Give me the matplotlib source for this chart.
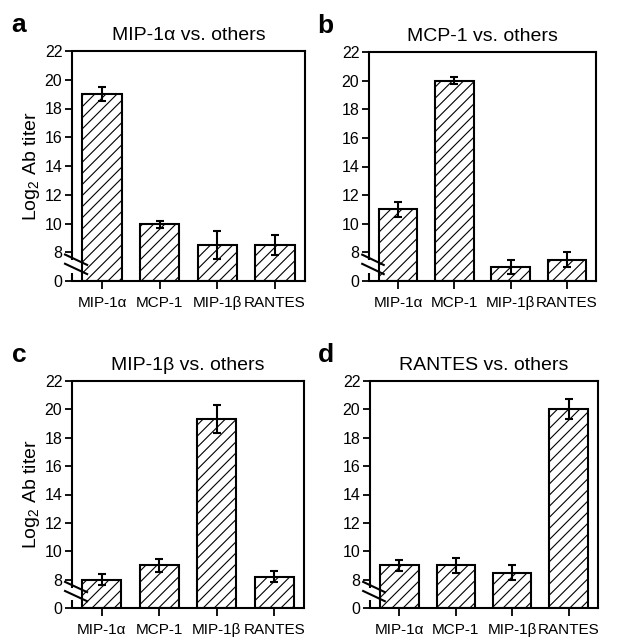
import matplotlib
matplotlib.use("Agg")
import matplotlib.pyplot as plt

plt.rcParams['font.family'] = ['Liberation Sans', 'DejaVu Sans']
plt.rcParams['mathtext.fontset'] = 'custom'
plt.rcParams['mathtext.rm'] = 'Liberation Sans'
plt.rcParams['hatch.linewidth'] = 0.8

# Data (the axis is broken, "0" sits where 6 would be)
chemokines = ["MIP-1\u03b1", "MCP-1", "MIP-1\u03b2", "RANTES"]
letters = ["a", "b", "c", "d"]
titles = ["MIP-1\u03b1 vs. others", "MCP-1 vs. others",
          "MIP-1\u03b2 vs. others", "RANTES vs. others"]
titer_a = [19.0, 9.95, 8.5, 8.5]
err_a = [0.5, 0.25, 1.0, 0.7]
titer_b = [11.0, 20.0, 7.0, 7.5]
err_b = [0.5, 0.25, 0.5, 0.5]
titer_c = [8.0, 9.0, 19.3, 8.2]
err_c = [0.4, 0.45, 1.0, 0.4]
titer_d = [9.0, 9.0, 8.5, 20.0]
err_d = [0.4, 0.5, 0.5, 0.7]
ytick_vals = [6, 8, 10, 12, 14, 16, 18, 20, 22]
ytick_labels = ["0", "8", "10", "12", "14", "16", "18", "20", "22"]
axis_floor = 6

W, H = 618, 641
fig = plt.figure(figsize=(W / 100, H / 100), dpi=100)

# axes boxes in pixels: left, top, right, bottom
boxes = [(72, 51, 305, 281), (369, 52, 596, 281),
         (72, 381, 304, 608), (370, 381, 598, 608)]
series = [(titer_a, err_a), (titer_b, err_b), (titer_c, err_c), (titer_d, err_d)]

for i, (box, (vals, errs)) in enumerate(zip(boxes, series)):
    l, t, r, b = box
    ax = fig.add_axes([l / W, 1 - b / H, (r - l) / W, (b - t) / H])
    x = list(range(len(chemokines)))
    heights = [v - axis_floor for v in vals]
    ax.bar(x, heights, bottom=axis_floor, width=0.68, color="white",
           edgecolor="black", linewidth=1.5, hatch="///", zorder=2)
    ax.errorbar(x, vals, yerr=errs, fmt="none", ecolor="black",
                elinewidth=1.5, capsize=3, capthick=1.5, zorder=3)
    ax.set_xlim(-0.52, 3.52)
    ax.set_ylim(axis_floor, 22)
    ax.set_yticks(ytick_vals)
    ax.set_yticklabels(ytick_labels, fontsize=11.5)
    ax.set_xticks(x)
    ax.set_xticklabels(chemokines, fontsize=11)
    ax.tick_params(axis="both", direction="out", width=1.3, pad=2)
    ax.tick_params(axis="y", length=5)
    ax.tick_params(axis="x", length=6, pad=5)
    for s in ["top", "right", "bottom"]:
        ax.spines[s].set_linewidth(1.5)
    ax.spines["left"].set_visible(False)
    # left spine drawn in two pieces with a break between 0 and 8
    ax.plot([0, 0], [1, 0.09], transform=ax.transAxes, color="black",
            lw=1.5, clip_on=False, solid_capstyle="butt")
    ax.plot([0, 0], [0.035, 0], transform=ax.transAxes, color="black",
            lw=1.5, clip_on=False, solid_capstyle="butt")
    ax.plot([-0.03, 0.065], [0.115, 0.07], transform=ax.transAxes,
            color="black", lw=1.5, clip_on=False)
    ax.plot([-0.03, 0.065], [0.075, 0.03], transform=ax.transAxes,
            color="black", lw=1.5, clip_on=False)
    ax.set_title(titles[i], fontsize=14, pad=8)
    if i in (0, 2):
        ax.set_ylabel("Log$_2$ Ab titer", fontsize=14, labelpad=2)
    ax.text(-0.26 if i in (0, 2) else -0.23, 1.06, letters[i],
            transform=ax.transAxes, fontsize=19, fontweight="bold",
            ha="left", va="bottom")

fig.savefig("out.png", dpi=100)
